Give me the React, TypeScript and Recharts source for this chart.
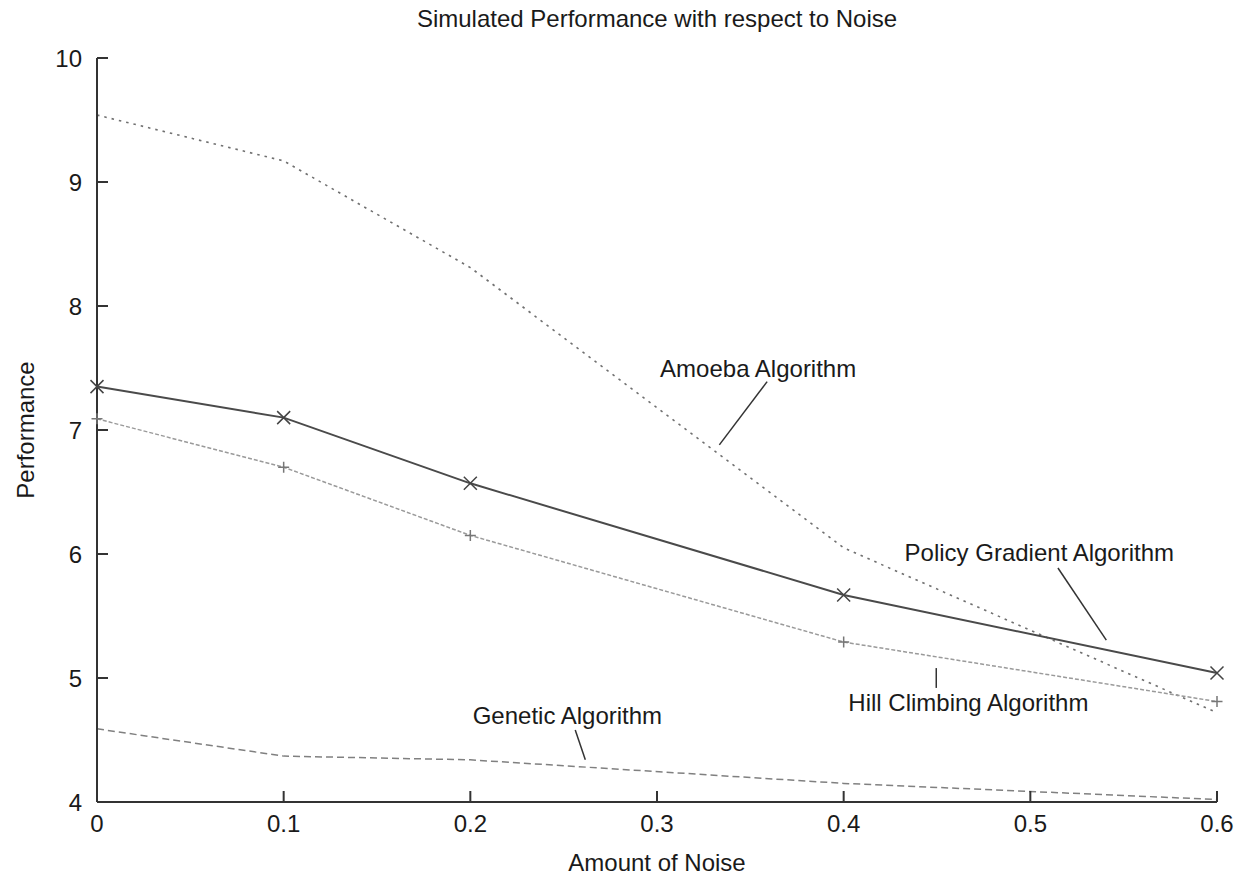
import { LineChart, Line, XAxis, YAxis, ReferenceLine, ReferenceDot } from "recharts"

// noise levels where the simulations were run
const noise = [0, 0.1, 0.2, 0.4, 0.6]
const policyGradient = [7.35, 7.1, 6.57, 5.67, 5.04]
const hillClimbing = [7.09, 6.7, 6.15, 5.29, 4.81]
const amoeba = [9.54, 9.17, 8.31, 6.05, 4.72]
const genetic = [4.59, 4.37, 4.34, 4.15, 4.02]

const xTicks = [0, 0.1, 0.2, 0.3, 0.4, 0.5, 0.6]
const yTicks = [4, 5, 6, 7, 8, 9, 10]

// in-plot labels with their pointer lines (data coordinates)
const annotations = [
  { text: "Amoeba Algorithm", x: 0.3542, y: 7.5, from: [0.359, 7.39], to: [0.3334, 6.88] },
  { text: "Policy Gradient Algorithm", x: 0.5048, y: 6.01, from: [0.5148, 5.887], to: [0.5407, 5.306] },
  { text: "Hill Climbing Algorithm", x: 0.4668, y: 4.8, from: [0.4496, 5.08], to: [0.4496, 4.92] },
  { text: "Genetic Algorithm", x: 0.252, y: 4.7, from: [0.2562, 4.58], to: [0.2616, 4.34] },
]

const data = noise.map((x, i) => ({
  x,
  pg: policyGradient[i],
  hc: hillClimbing[i],
  amoeba: amoeba[i],
  ga: genetic[i],
}))

const FONT = '"Liberation Sans", Arial, Helvetica, sans-serif'
const AXIS = "#333"
const TEXT = "#1a1a1a"

const CrossDot = (props: any) => {
  const { cx, cy, index } = props
  const s = 6.5
  return (
    <path
      key={`x-${index}`}
      d={`M${cx - s},${cy - s}L${cx + s},${cy + s}M${cx - s},${cy + s}L${cx + s},${cy - s}`}
      stroke="#444"
      strokeWidth={1.5}
      fill="none"
    />
  )
}

const PlusDot = (props: any) => {
  const { cx, cy, index } = props
  const s = 5.5
  return (
    <path
      key={`p-${index}`}
      d={`M${cx - s},${cy}L${cx + s},${cy}M${cx},${cy - s}L${cx},${cy + s}`}
      stroke="#777"
      strokeWidth={1.5}
      fill="none"
    />
  )
}

export default function App() {
  const tickStyle = { fontSize: 24, fill: TEXT, fontFamily: FONT }
  const lineStyle = { stroke: AXIS, strokeWidth: 2 }

  return (
    <div
      style={{
        position: "absolute",
        left: 0,
        top: 0,
        width: 1238,
        height: 876,
        background: "#fff",
        fontFamily: FONT,
      }}
    >
      <div
        style={{
          position: "absolute",
          left: 0,
          top: 5,
          width: 1314,
          textAlign: "center",
          fontSize: 24,
          color: TEXT,
        }}
      >
        Simulated Performance with respect to Noise
      </div>
      <LineChart width={1238} height={876} data={data} margin={{ top: 58, right: 21, left: 0, bottom: 0 }}>
        <XAxis
          xAxisId="bottom"
          dataKey="x"
          type="number"
          domain={[0, 0.6]}
          ticks={xTicks}
          height={74}
          tickSize={-11}
          tickMargin={24}
          tick={tickStyle}
          axisLine={lineStyle}
          tickLine={lineStyle}
          label={{ value: "Amount of Noise", position: "insideBottom", offset: 5, fontSize: 24, fill: TEXT }}
        />
        <XAxis
          xAxisId="top"
          orientation="top"
          dataKey="x"
          type="number"
          domain={[0, 0.6]}
          ticks={xTicks}
          height={0}
          tickSize={-11}
          tick={false}
          axisLine={lineStyle}
          tickLine={lineStyle}
        />
        <YAxis
          yAxisId="left"
          type="number"
          domain={[4, 10]}
          ticks={yTicks}
          width={97}
          tickSize={-11}
          tickMargin={26}
          tick={tickStyle}
          axisLine={lineStyle}
          tickLine={lineStyle}
          label={{
            value: "Performance",
            angle: -90,
            position: "insideLeft",
            offset: 25,
            fontSize: 24,
            fill: TEXT,
            style: { textAnchor: "middle" },
          }}
        />
        <YAxis
          yAxisId="right"
          orientation="right"
          type="number"
          domain={[4, 10]}
          ticks={yTicks}
          width={0}
          tickSize={-11}
          tick={false}
          axisLine={lineStyle}
          tickLine={lineStyle}
        />
        <Line
          xAxisId="bottom"
          yAxisId="left"
          dataKey="amoeba"
          stroke="#707070"
          strokeWidth={1.6}
          strokeDasharray="2.5 5"
          dot={false}
          isAnimationActive={false}
        />
        <Line
          xAxisId="bottom"
          yAxisId="left"
          dataKey="ga"
          stroke="#808080"
          strokeWidth={1.5}
          strokeDasharray="7 4"
          dot={false}
          isAnimationActive={false}
        />
        <Line
          xAxisId="bottom"
          yAxisId="left"
          dataKey="hc"
          stroke="#9a9a9a"
          strokeWidth={1.5}
          strokeDasharray="4 2"
          dot={PlusDot}
          isAnimationActive={false}
        />
        <Line
          xAxisId="bottom"
          yAxisId="left"
          dataKey="pg"
          stroke="#4a4a4a"
          strokeWidth={2}
          dot={CrossDot}
          isAnimationActive={false}
        />
        {annotations.map((a) => (
          <ReferenceLine
            key={`line-${a.text}`}
            xAxisId="bottom"
            yAxisId="left"
            segment={[
              { x: a.from[0], y: a.from[1] },
              { x: a.to[0], y: a.to[1] },
            ]}
            stroke="#333"
            strokeWidth={1.5}
          />
        ))}
        {annotations.map((a) => (
          <ReferenceDot
            key={`label-${a.text}`}
            xAxisId="bottom"
            yAxisId="left"
            x={a.x}
            y={a.y}
            r={0}
            fill="none"
            stroke="none"
            label={{ value: a.text, position: "center", fontSize: 24, fill: TEXT }}
          />
        ))}
      </LineChart>
    </div>
  )
}
